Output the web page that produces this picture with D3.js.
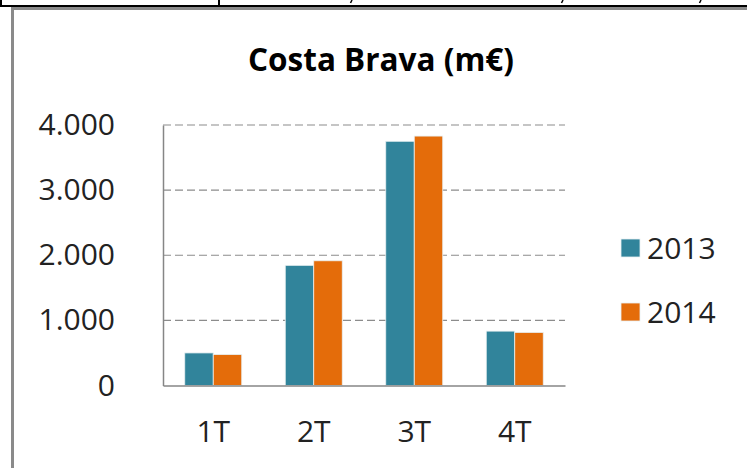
<!DOCTYPE html>
<html>
<head>
<meta charset="utf-8">
<script src="https://cdn.jsdelivr.net/npm/d3@7"></script>
<style>
  html, body { margin: 0; padding: 0; background: #fff; }
  svg { display: block; font-family: "Open Sans", sans-serif; }
</style>
</head>
<body>
<svg id="chart"></svg>
<script>
const quarters = ["1T", "2T", "3T", "4T"];
const years = ["2013", "2014"];
const values2013 = [500, 1845, 3750, 835];
const values2014 = [475, 1915, 3830, 815];
const yTicks = [0, 1000, 2000, 3000, 4000];
const yTickLabels = ["0", "1.000", "2.000", "3.000", "4.000"];
const colors = ["#31849b", "#e46c0a"];

const svgWidth = 747, svgHeight = 468;
const margin = { top: 125, right: 182, bottom: 82.5, left: 163 };
const width = svgWidth - margin.left - margin.right;
const height = svgHeight - margin.top - margin.bottom;

const svg = d3.select("#chart")
  .attr("width", svgWidth)
  .attr("height", svgHeight);

// bits of the surrounding document table that show at the top
svg.append("line")
  .attr("x1", 0).attr("x2", svgWidth)
  .attr("y1", 6).attr("y2", 6)
  .attr("stroke", "#000").attr("stroke-width", 2);
svg.append("line")
  .attr("x1", 1).attr("x2", 1)
  .attr("y1", 0).attr("y2", 6)
  .attr("stroke", "#000").attr("stroke-width", 2);
svg.append("line")
  .attr("x1", 219).attr("x2", 219)
  .attr("y1", 0).attr("y2", 6)
  .attr("stroke", "#000").attr("stroke-width", 2);
// tails of clipped commas from the row above
[351, 562, 700].forEach(function (cx) {
  svg.append("line")
    .attr("x1", cx + 1).attr("x2", cx - 0.5)
    .attr("y1", 0).attr("y2", 3)
    .attr("stroke", "#000").attr("stroke-width", 1.5);
});

// chart frame
svg.append("path")
  .attr("d", "M12.5," + svgHeight + "V8.5H" + svgWidth)
  .attr("fill", "none")
  .attr("stroke", "#8a8a8a")
  .attr("stroke-width", 3);

const g = svg.append("g")
  .attr("transform", "translate(" + margin.left + "," + margin.top + ")");

const x0 = d3.scaleBand()
  .domain(quarters)
  .range([0, width])
  .paddingInner(0.433)
  .paddingOuter(0.2165);

const x1 = d3.scaleBand()
  .domain(years)
  .range([0, x0.bandwidth()]);

const y = d3.scaleLinear()
  .domain([0, 4000])
  .range([height, 0]);

// dashed gridlines
g.append("g")
  .selectAll("line")
  .data(yTicks.filter(d => d > 0))
  .join("line")
  .attr("x1", 0).attr("x2", width)
  .attr("y1", d => y(d)).attr("y2", d => y(d))
  .attr("stroke", "#8c8c8c")
  .attr("stroke-width", 1.2)
  .attr("stroke-dasharray", "8,4");

const rows = quarters.map((q, i) => ({ q: q, vals: [values2013[i], values2014[i]] }));

g.append("g")
  .selectAll("g")
  .data(rows)
  .join("g")
  .attr("transform", d => "translate(" + x0(d.q) + ",0)")
  .selectAll("rect")
  .data(d => d.vals.map((v, j) => ({ year: years[j], value: v, j: j })))
  .join("rect")
  .attr("x", d => x1(d.year))
  .attr("y", d => y(d.value))
  .attr("width", x1.bandwidth())
  .attr("height", d => height - y(d.value))
  .attr("fill", d => colors[d.j])
  .attr("stroke", "#e8f0f2")
  .attr("stroke-width", 0.8);

// axes
const yAxis = g.append("g")
  .call(d3.axisLeft(y).tickValues(yTicks).tickSize(0).tickPadding(48)
    .tickFormat((d, i) => yTickLabels[i]));
yAxis.select(".domain")
  .attr("stroke", "#868686")
  .attr("stroke-width", 1.5);
yAxis.selectAll("text")
  .attr("font-family", "Open Sans")
  .attr("font-size", 30)
  .attr("fill", "#222");

const xAxis = g.append("g")
  .attr("transform", "translate(0," + height + ")")
  .call(d3.axisBottom(x0).tickSize(0).tickPadding(35));
xAxis.select(".domain")
  .attr("stroke", "#868686")
  .attr("stroke-width", 1.5);
xAxis.selectAll("text")
  .attr("font-family", "Open Sans")
  .attr("font-size", 30)
  .attr("fill", "#222");

// title
svg.append("text")
  .attr("x", 381)
  .attr("y", 71)
  .attr("text-anchor", "middle")
  .attr("font-size", 31.5)
  .attr("font-weight", "bold")
  .attr("fill", "#000")
  .text("Costa Brava (m€)");

// legend
const legend = svg.append("g")
  .selectAll("g")
  .data(years)
  .join("g")
  .attr("transform", (d, i) => "translate(621," + (239 + i * 64) + ")");
legend.append("rect")
  .attr("width", 19).attr("height", 18)
  .attr("fill", (d, i) => colors[i])
  .attr("stroke", "#e8f0f2")
  .attr("stroke-width", 0.8);
legend.append("text")
  .attr("x", 26)
  .attr("y", 20)
  .attr("font-size", 30)
  .attr("fill", "#222")
  .text(d => d);
</script>
</body>
</html>
